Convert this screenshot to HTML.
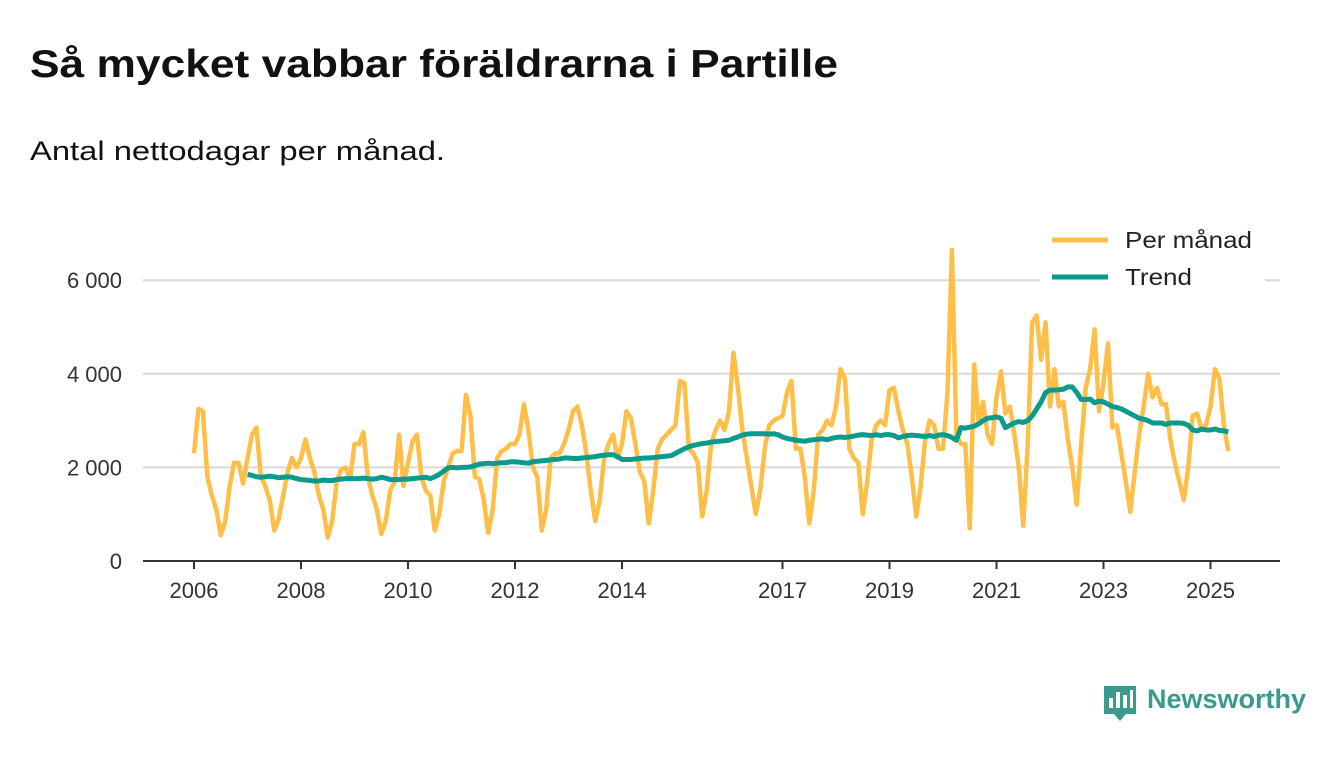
<!DOCTYPE html>
<html><head><meta charset="utf-8"><style>
body{margin:0;background:#fff;width:1340px;height:753px;overflow:hidden;font-family:"Liberation Sans",sans-serif}
</style></head><body>
<svg width="1340" height="753">
<text x="30" y="77" font-size="39" font-weight="bold" fill="#111" textLength="808" lengthAdjust="spacingAndGlyphs">Så mycket vabbar föräldrarna i Partille</text>
<text x="30" y="160" font-size="27" fill="#111" textLength="415" lengthAdjust="spacingAndGlyphs">Antal nettodagar per månad.</text>
<g id="grid"></g><g id="axes"></g><g id="lines"></g>
<g id="legend">
<rect x="1040" y="222" width="225" height="72" fill="#fff"/>
<line x1="1052" y1="240" x2="1108" y2="240" stroke="#fdbf47" stroke-width="5"/>
<text x="1125" y="248" font-size="23" fill="#222" textLength="127" lengthAdjust="spacingAndGlyphs">Per månad</text>
<line x1="1052" y1="277" x2="1108" y2="277" stroke="#0a9b8d" stroke-width="5"/>
<text x="1125" y="285" font-size="23" fill="#222" textLength="67" lengthAdjust="spacingAndGlyphs">Trend</text>
</g>
<g>
<path d="M1104 686h32v28h-10l-6 7-6-7h-10z" fill="#3a9a8c"/>
<rect x="1109" y="698" width="4" height="10" fill="#fff"/><rect x="1116" y="692" width="4" height="16" fill="#fff"/><rect x="1123" y="695" width="4" height="13" fill="#fff"/><rect x="1130" y="690" width="3" height="18" fill="#fff"/>
<text x="1147" y="708" font-size="27" font-weight="bold" fill="#3a9a8c">Newsworthy</text>
</g>
</svg>
<script>
const perManad=[
2300,3250,3200,1800,1400,1100,550,850,1600,2100,2100,1650,
2200,2700,2850,1800,1600,1300,650,900,1400,1900,2200,2000,
2200,2600,2200,1900,1400,1100,500,850,1700,1950,2000,1750,
2500,2500,2750,1800,1400,1100,580,850,1500,1700,2700,1600,
2100,2550,2700,1800,1500,1400,650,1000,1700,2000,2300,2350,
2350,3550,3100,1800,1750,1300,600,1100,2200,2350,2400,2500,
2500,2700,3350,2800,2000,1800,650,1100,2200,2300,2300,2500,
2800,3200,3300,2900,2300,1500,850,1300,2200,2500,2700,2200,
2500,3200,3050,2500,1900,1700,800,1500,2400,2600,2700,2800,
2900,3850,3800,2400,2300,2100,950,1500,2500,2800,3000,2800,
3200,4450,3700,2800,2200,1600,1000,1500,2400,2900,3000,3050,
3100,3600,3850,2400,2400,1800,800,1500,2700,2800,3000,2900,
3300,4100,3900,2400,2200,2100,1000,1700,2600,2900,3000,2900,
3650,3700,3200,2800,2500,1800,950,1600,2600,3000,2900,2400,
2400,3600,6650,2700,2500,2500,700,4200,2950,3400,2700,2500,
3500,4050,3150,3300,2700,2000,750,2500,5100,5250,4300,5100,
3300,4100,3300,3400,2600,2000,1200,2500,3700,4100,4950,3200,
3800,4650,2850,2900,2300,1700,1050,1900,2700,3300,4000,3500,
3700,3350,3350,2600,2100,1700,1300,2000,3100,3150,2800,2900,
3300,4100,3900,2900,2350];
const trendStart=12;
const trend=[
1850,1830,1800,1790,1800,1810,1800,1780,1790,1800,1790,1760,
1740,1730,1720,1710,1710,1730,1720,1720,1740,1750,1760,1760,
1760,1760,1770,1760,1750,1760,1790,1770,1740,1740,1740,1750,
1750,1760,1770,1780,1790,1760,1800,1850,1920,1990,2000,1990,
2000,2000,2010,2040,2070,2080,2090,2080,2090,2100,2100,2120,
2120,2110,2100,2090,2120,2130,2140,2150,2160,2170,2180,2200,
2200,2190,2190,2200,2210,2220,2230,2250,2260,2270,2270,2230,
2170,2170,2170,2180,2190,2200,2200,2210,2220,2230,2240,2250,
2300,2350,2400,2440,2470,2490,2510,2520,2540,2550,2560,2570,
2580,2620,2650,2690,2710,2720,2720,2720,2720,2710,2720,2700,
2650,2620,2600,2580,2570,2560,2580,2590,2600,2610,2590,2620,
2640,2650,2640,2650,2670,2690,2700,2690,2680,2700,2680,2700,
2700,2680,2630,2660,2680,2690,2680,2670,2660,2680,2660,2690,
2700,2680,2640,2580,2850,2840,2860,2880,2930,3000,3050,3060,
3080,3050,2850,2900,2950,2980,2960,3000,3100,3250,3400,3600,
3650,3650,3660,3670,3720,3720,3600,3450,3450,3460,3380,3420,
3400,3350,3300,3280,3250,3200,3150,3100,3050,3030,3000,2950,
2950,2950,2920,2950,2950,2950,2940,2900,2800,2780,2820,2800,
2800,2820,2790,2780,2760];
const yTicks=[0,2000,4000,6000];
const yTickLabels=["0","2 000","4 000","6 000"];
const xTicks=[2006,2008,2010,2012,2014,2017,2019,2021,2023,2025];
const NS="http://www.w3.org/2000/svg";
const x=t=>194+(t-2006)*53.5;
const xm=i=>x(2006+i/12);
const y=v=>561-v*0.0468;
function mk(tag,attrs,parent){const e=document.createElementNS(NS,tag);for(const k in attrs)e.setAttribute(k,attrs[k]);document.getElementById(parent).appendChild(e);return e;}
yTicks.forEach((v,i)=>{
 if(v>0){const g=mk('line',{x1:143,x2:1280,y1:y(v),y2:y(v),stroke:'#d8d8d8','stroke-width':2},'grid');
 
 }
 const t=mk('text',{x:122,y:y(v)+8,'text-anchor':'end','font-size':22,fill:'#333'},'axes');t.textContent=yTickLabels[i];
 
 
});
const base=mk('line',{x1:143,x2:1280,y1:561,y2:561,stroke:'#333','stroke-width':2},'axes');


xTicks.forEach(t=>{
 const tk=mk('line',{x1:x(t),x2:x(t),y1:561,y2:569,stroke:'#333','stroke-width':2},'axes');
 
 
 const l=mk('text',{x:x(t),y:598,'text-anchor':'middle','font-size':22,fill:'#333'},'axes');l.textContent=t;
 
 
});
const p1=mk('polyline',{points:perManad.map((v,i)=>xm(i)+','+y(v)).join(' '),fill:'none',stroke:'#fdbf47','stroke-width':4.5,'stroke-linejoin':'round'},'lines');


const p2=mk('polyline',{points:trend.map((v,i)=>xm(i+trendStart)+','+y(v)).join(' '),fill:'none',stroke:'#0a9b8d','stroke-width':5,'stroke-linejoin':'round'},'lines');


</script>
</body></html>
